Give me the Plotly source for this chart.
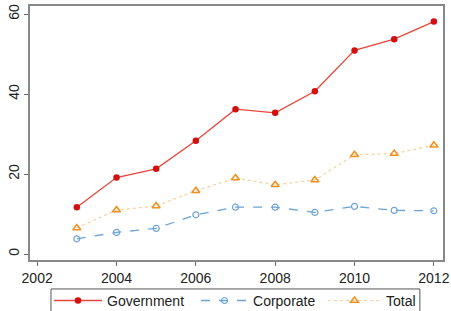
import plotly.graph_objects as go

years = [2003, 2004, 2005, 2006, 2007, 2008, 2009, 2010, 2011, 2012]
government = [11.7, 19.1, 21.3, 28.3, 36.2, 35.3, 40.7, 50.9, 53.7, 58.1]
corporate = [3.8, 5.4, 6.4, 9.8, 11.7, 11.7, 10.4, 11.9, 10.9, 10.8]
total = [6.5, 11.0, 12.0, 15.8, 19.0, 17.3, 18.5, 24.8, 25.1, 27.2]

x_ticks = [2002, 2004, 2006, 2008, 2010, 2012]
y_ticks = [0, 20, 40, 60]

fig = go.Figure()
fig.add_trace(go.Scatter(
    x=years, y=government, name="Government", mode="lines+markers", legend="legend",
    line=dict(color="#e8463a", width=1.3),
    marker=dict(color="#d40f0f", size=6.5, symbol="circle")))
fig.add_trace(go.Scatter(
    x=years, y=corporate, name="Corporate", mode="lines+markers", legend="legend2",
    line=dict(color="#6ea3d6", width=1.3, dash="dash"),
    marker=dict(color="#6ea3d6", size=6, symbol="circle-open", line=dict(width=1.2))))
fig.add_trace(go.Scatter(
    x=years, y=total, name="Total", mode="lines+markers", legend="legend3",
    line=dict(color="#f9cfa0", width=1.2, dash="dot"),
    marker=dict(color="#ef9020", size=7, symbol="triangle-up-open", line=dict(width=1.5))))

leg_common = dict(orientation="h", xanchor="left", y=-0.098, yanchor="top",
                  bgcolor="rgba(0,0,0,0)", borderwidth=0, font=dict(size=14))

fig.update_layout(
    width=451, height=311,
    margin=dict(l=30, r=8, t=6, b=51, autoexpand=False),
    paper_bgcolor="white", plot_bgcolor="white",
    font=dict(family="Liberation Sans, Arial, sans-serif", size=14, color="#222"),
    showlegend=True,
    legend=dict(x=0.046, itemwidth=48, **leg_common),
    legend2=dict(x=0.402, itemwidth=47, **leg_common),
    legend3=dict(x=0.7094, itemwidth=53, **leg_common),
    shapes=[dict(type="rect", xref="paper", yref="paper",
                 x0=0.0508, x1=0.944, y0=-0.114, y1=-0.4,
                 line=dict(color="#555", width=1), fillcolor="rgba(0,0,0,0)")],
)
fig.update_xaxes(range=[2001.82, 2012.23], tickvals=x_ticks, ticks="outside", ticklen=4,
                 tickcolor="#666", showline=True, linecolor="#888", linewidth=1.5, mirror=True,
                 showgrid=False, zeroline=False, automargin=False)
fig.update_yaxes(range=[-1.5, 62], tickvals=y_ticks, ticks="outside", ticklen=4,
                 tickcolor="#666", showline=True, linecolor="#888", linewidth=1.5, mirror=True,
                 showgrid=False, zeroline=False, tickangle=-90, automargin=False)

fig.write_html("out.html", config={"displayModeBar": False},
               post_script="document.body.style.margin='0';document.body.style.overflow='hidden';")
